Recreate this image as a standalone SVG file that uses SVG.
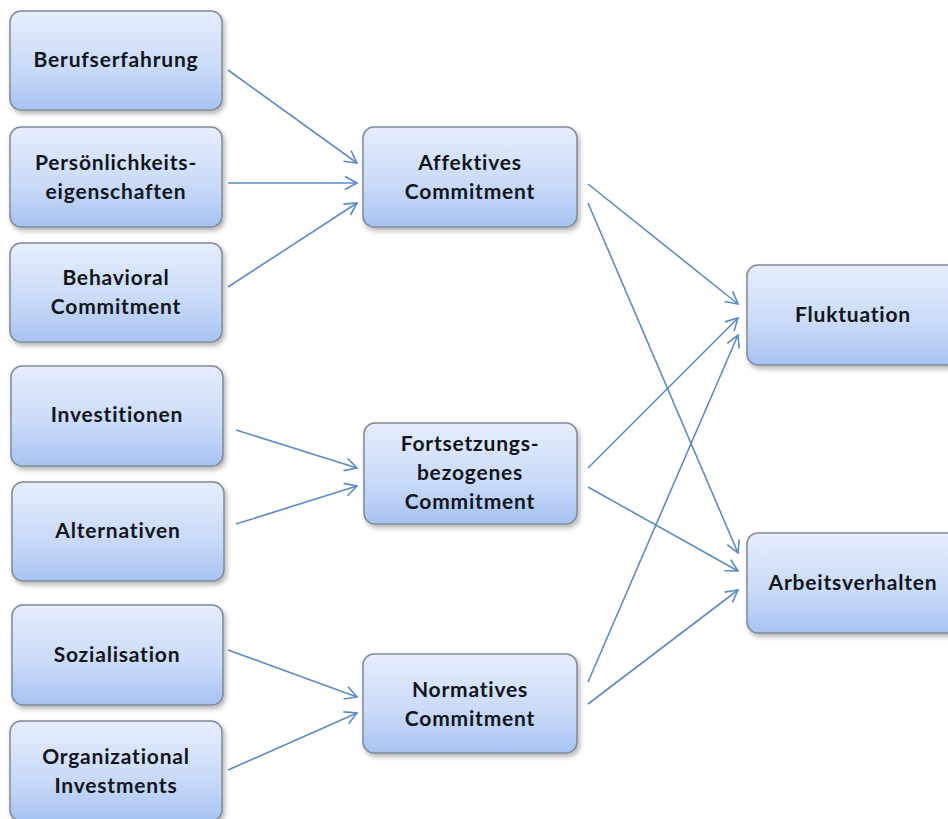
<svg xmlns="http://www.w3.org/2000/svg" width="948" height="819" viewBox="0 0 948 819">
<defs>
<linearGradient id="g" x1="0" y1="0" x2="0" y2="1">
<stop offset="0" stop-color="#e6eefc"/>
<stop offset="0.6" stop-color="#c8d9f8"/>
<stop offset="1" stop-color="#a6c3f2"/>
</linearGradient>
<filter id="sh" x="-10%" y="-10%" width="130%" height="130%">
<feDropShadow dx="2" dy="3" stdDeviation="2.5" flood-color="#000" flood-opacity="0.3"/>
</filter>
<marker id="ah" markerUnits="userSpaceOnUse" markerWidth="16" markerHeight="16" viewBox="0 0 16 16" refX="14" refY="8" orient="auto">
<path d="M2,1.5 L14,8 L2,14.5" fill="none" stroke="#5b8bc7" stroke-width="1.6"/>
</marker>
</defs>
<style>
.box{fill:url(#g);stroke:#808a98;stroke-width:1.5;filter:url(#sh)}
.t{font-family:Lato,"Open Sans","Liberation Sans",sans-serif;font-weight:bold;font-size:21px;letter-spacing:0.8px;fill:#10151c;text-anchor:middle}
.e{stroke:#5b8bc7;stroke-width:1.6;fill:none;marker-end:url(#ah)}
</style>
<rect width="948" height="819" fill="#ffffff"/>
<g id="connectors">
<line class="e" x1="228" y1="70" x2="357" y2="163"/>
<line class="e" x1="228" y1="183" x2="357" y2="183"/>
<line class="e" x1="228" y1="287" x2="357" y2="203"/>
<line class="e" x1="236" y1="430" x2="357" y2="468"/>
<line class="e" x1="236" y1="524" x2="357" y2="486"/>
<line class="e" x1="228" y1="650" x2="357" y2="697"/>
<line class="e" x1="228" y1="770" x2="357" y2="713"/>
<line class="e" x1="588" y1="184" x2="738" y2="304"/>
<line class="e" x1="588" y1="203" x2="738" y2="553"/>
<line class="e" x1="588" y1="468" x2="738" y2="318"/>
<line class="e" x1="588" y1="487" x2="738" y2="571"/>
<line class="e" x1="588" y1="682" x2="738" y2="335"/>
<line class="e" x1="588" y1="704" x2="738" y2="590"/>
</g>
<g id="berufserfahrung"><rect class="box" x="10" y="11" width="212" height="99" rx="11"/><text class="t" x="116" y="67">Berufserfahrung</text></g>
<g id="persoenlichkeit"><rect class="box" x="10" y="127" width="212" height="100" rx="11"/><text class="t" x="116" y="170">Persönlichkeits-</text><text class="t" x="116" y="199">eigenschaften</text></g>
<g id="behavioral"><rect class="box" x="10" y="243" width="212" height="99" rx="11"/><text class="t" x="116" y="285">Behavioral</text><text class="t" x="116" y="314">Commitment</text></g>
<g id="investitionen"><rect class="box" x="11" y="366" width="212" height="100" rx="11"/><text class="t" x="117" y="422">Investitionen</text></g>
<g id="alternativen"><rect class="box" x="12" y="482" width="212" height="99" rx="11"/><text class="t" x="118" y="538">Alternativen</text></g>
<g id="sozialisation"><rect class="box" x="12" y="605" width="211" height="100" rx="11"/><text class="t" x="117" y="662">Sozialisation</text></g>
<g id="organizational"><rect class="box" x="10" y="721" width="212" height="100" rx="11"/><text class="t" x="116" y="764">Organizational</text><text class="t" x="116" y="793">Investments</text></g>
<g id="affektiv"><rect class="box" x="363" y="127" width="214" height="100" rx="11"/><text class="t" x="470" y="170">Affektives</text><text class="t" x="470" y="199">Commitment</text></g>
<g id="fortsetzung"><rect class="box" x="364" y="423" width="213" height="101" rx="11"/><text class="t" x="470" y="451">Fortsetzungs-</text><text class="t" x="470" y="480">bezogenes</text><text class="t" x="470" y="509">Commitment</text></g>
<g id="normativ"><rect class="box" x="363" y="654" width="214" height="99" rx="11"/><text class="t" x="470" y="697">Normatives</text><text class="t" x="470" y="726">Commitment</text></g>
<g id="fluktuation"><rect class="box" x="747" y="265" width="214" height="100" rx="11"/><text class="t" x="853" y="322">Fluktuation</text></g>
<g id="arbeitsverhalten"><rect class="box" x="747" y="533" width="214" height="100" rx="11"/><text class="t" x="853" y="590">Arbeitsverhalten</text></g>
</svg>
